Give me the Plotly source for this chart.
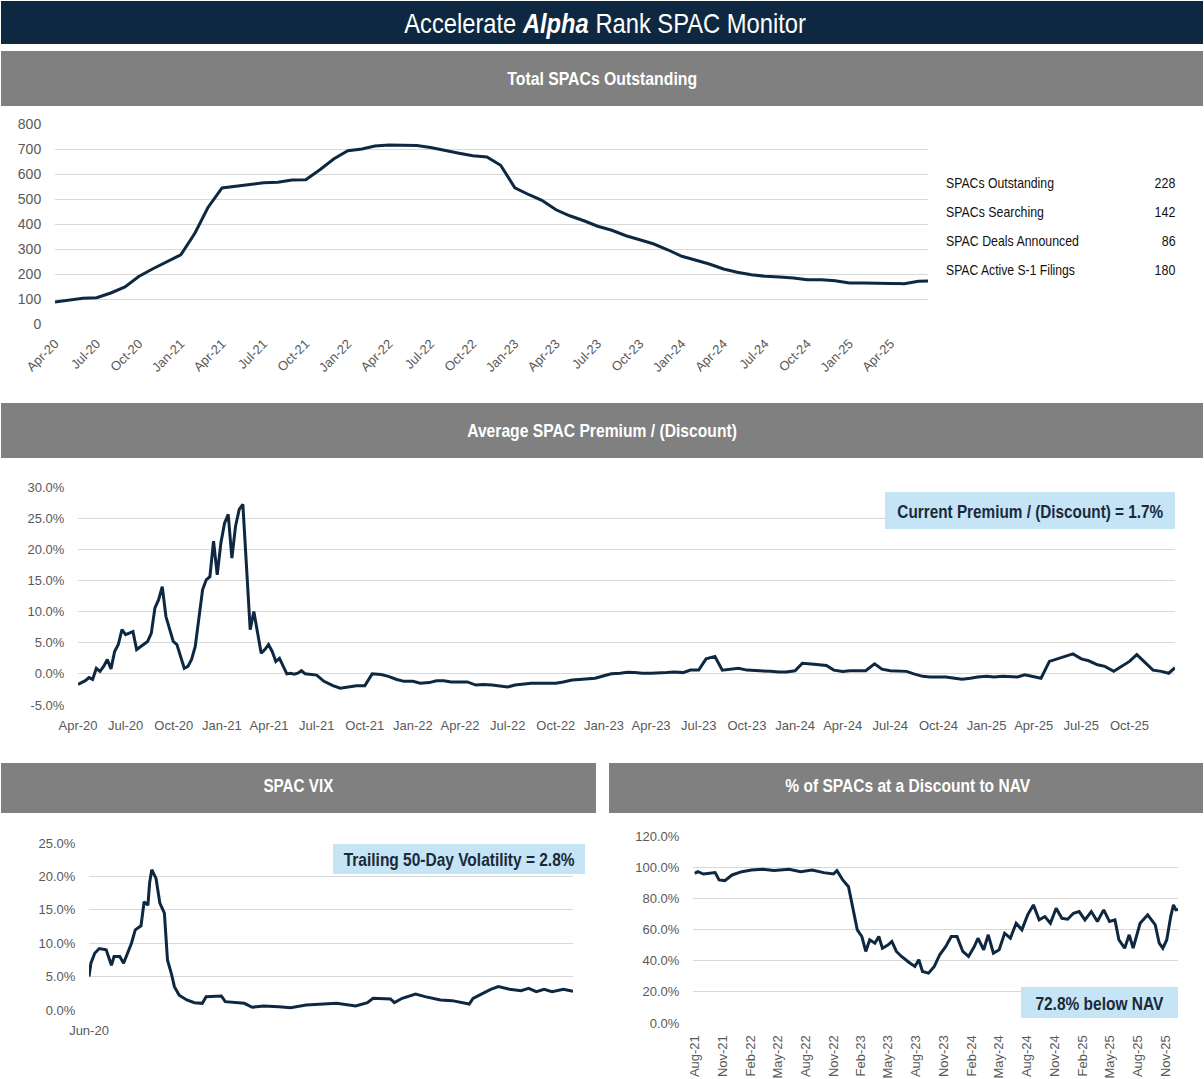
import json
import plotly.graph_objects as go
import pandas as pd

W, H = 1204, 1079
NAVY = "#0E2841"
GRAY = "#808080"
GRID = "#D9D9D9"
TICK = "#595959"
BOX = "#C5E4F5"
NARROW = "Liberation Sans Narrow, Arial Narrow, Liberation Sans, Arial"
REG = "Liberation Sans, Arial"

# ---------------- data ----------------
# Total SPACs outstanding (monthly, Apr-20 .. Jun-25, plus last point)
total_dates = list(pd.date_range("2020-04-01", periods=63, freq="MS")) + [pd.Timestamp("2025-06-22")]
total_vals = [88, 95, 103, 105, 124, 148, 190, 221, 250, 277, 364, 465,
              544, 551, 561, 565, 567, 576, 577, 617, 660, 693, 700, 712,
              716, 716, 714, 706, 693, 683, 673, 668, 635, 545, 517, 495,
              457, 433, 413, 391, 375, 353, 337, 320, 297, 271, 255, 240,
              220, 207, 197, 191, 188, 184, 177, 177, 173, 164, 164, 164,
              164, 161, 171, 172]
total_ticks = list(pd.date_range("2020-04-01", "2025-04-01", freq="3MS"))

stat_labels = ["SPACs Outstanding", "SPACs Searching", "SPAC Deals Announced", "SPAC Active S-1 Filings"]
stat_values = ["228", "142", "86", "180"]

# Average SPAC premium / (discount), % (weekly Apr-20..Jun-21, then semi-monthly)
prem_early_dates = list(pd.date_range("2020-04-01", periods=63, freq="7D"))
prem_early_vals = [-1.7, -1.4, -1.1, -0.6, -0.9, 0.9, 0.4, 1.2, 2.3, 0.8,
                   3.6, 4.7, 7.1, 6.3, 6.5, 6.8, 3.9, 4.3, 4.8, 5.2,
                   6.5, 10.6, 11.9, 14.0, 9.2, 7.3, 5.2, 4.7, 2.8, 0.9,
                   1.2, 2.3, 4.4, 9.2, 13.5, 15.1, 15.6, 21.3, 15.9, 21.0,
                   24.2, 25.6, 18.6, 23.7, 26.4, 27.2, 16.2, 7.1, 10.0, 6.5,
                   3.3, 3.9, 4.7, 3.6, 2.0, 2.5, 1.2, 0.0, 0.1, -0.05,
                   0.1, 0.5, 0.0]
prem_late_dates = list(pd.date_range("2021-07-01", "2025-12-15", freq="SMS")) + [pd.Timestamp("2025-12-27")]
prem_late_vals = [-0.2, -1.2, -1.9, -2.3, -2.1, -1.9, -1.9, 0.0, -0.1, -0.4, -0.9, -1.2,
                  -1.2, -1.5, -1.4, -1.1, -1.1, -1.3, -1.3, -1.3, -1.8, -1.7, -1.8, -1.9,
                  -2.1, -1.8, -1.6, -1.5, -1.5, -1.5, -1.5, -1.3, -1.0, -0.9, -0.75, -0.7,
                  -0.3, 0.0, 0.1, 0.25, 0.2, 0.1, 0.1, 0.1, 0.2, 0.3, 0.2, 0.6,
                  0.6, 2.4, 2.8, 0.6, 0.75, 0.9, 0.6, 0.5, 0.4, 0.4, 0.3, 0.3,
                  0.5, 1.7, 1.6, 1.45, 1.35, 0.6, 0.4, 0.5, 0.5, 0.5, 1.6, 0.75,
                  0.5, 0.5, 0.4, 0.0, -0.4, -0.5, -0.5, -0.5, -0.7, -0.85, -0.7, -0.5,
                  -0.4, -0.5, -0.4, -0.4, -0.5, -0.15, -0.5, -0.7, 2.0, 2.4, 2.9, 3.2,
                  2.4, 2.1, 1.45, 1.2, 0.4, 1.1, 2.0, 3.1, 1.7, 0.6, 0.4, 0.1,
                  1.0]
prem_ticks = list(pd.date_range("2020-04-01", "2025-10-01", freq="3MS"))
prem_yticks = [-5, 0, 5, 10, 15, 20, 25, 30]
prem_note = "Current Premium / (Discount) = 1.7%"

# SPAC VIX, %
vix_dates = ["2020-06-01", "2020-06-09", "2020-06-25", "2020-07-14", "2020-08-12", "2020-08-28",
             "2020-09-03", "2020-09-14", "2020-10-08", "2020-10-24", "2020-11-10", "2020-11-26",
             "2020-12-12", "2021-01-05", "2021-01-18", "2021-02-03", "2021-02-10", "2021-02-19",
             "2021-03-09", "2021-03-25", "2021-04-13", "2021-04-26", "2021-05-12", "2021-05-25",
             "2021-06-14", "2021-07-16", "2021-08-17", "2021-09-19", "2021-10-05", "2021-12-08",
             "2021-12-24", "2022-02-11", "2022-03-14", "2022-04-16", "2022-06-03", "2022-08-06",
             "2022-09-24", "2022-11-28", "2023-02-17", "2023-04-05", "2023-06-24", "2023-08-12",
             "2023-09-05", "2023-11-17", "2023-12-03", "2024-01-05", "2024-03-01", "2024-04-10",
             "2024-06-13", "2024-08-01", "2024-10-12", "2024-10-28", "2024-12-08", "2025-01-10",
             "2025-02-11", "2025-03-30", "2025-05-17", "2025-06-18", "2025-07-20", "2025-08-22",
             "2025-09-24", "2025-11-11", "2025-12-21"]
vix_vals = [5.0, 7.0, 8.5, 9.2, 9.0, 7.5,
            6.7, 8.0, 8.0, 7.0, 8.5, 10.0,
            12.0, 12.6, 16.2, 15.7, 19.0, 21.0,
            19.7, 16.0, 14.5, 7.5, 5.5, 3.5,
            2.2, 1.5, 1.1, 1.0, 2.0, 2.1,
            1.25, 1.1, 1.0, 0.4, 0.6, 0.5,
            0.35, 0.75, 0.9, 1.0, 0.6, 1.1,
            1.75, 1.65, 1.1, 1.75, 2.4, 2.0,
            1.5, 1.4, 0.9, 1.75, 2.5, 3.1,
            3.5, 3.1, 2.9, 3.25, 2.75, 3.1,
            2.75, 3.1, 2.8]
vix_yticks = [0, 5, 10, 15, 20, 25]
vix_note = "Trailing 50-Day Volatility = 2.8%"

# % of SPACs at a discount to NAV
nav_dates = ["2021-08-01", "2021-08-11", "2021-08-30", "2021-09-18", "2021-10-07", "2021-10-20",
             "2021-11-08", "2021-12-02", "2022-01-03", "2022-02-04", "2022-03-13", "2022-04-19",
             "2022-06-08", "2022-07-16", "2022-08-23", "2022-09-30", "2022-11-01", "2022-11-13",
             "2022-12-02", "2022-12-21", "2022-12-30", "2023-01-09", "2023-01-19", "2023-02-03",
             "2023-02-16", "2023-03-01", "2023-03-18", "2023-03-31", "2023-04-12", "2023-05-01",
             "2023-05-13", "2023-05-28", "2023-06-14", "2023-07-09", "2023-07-28", "2023-08-10",
             "2023-08-22", "2023-09-11", "2023-09-30", "2023-10-18", "2023-11-07", "2023-11-25",
             "2023-12-14", "2024-01-02", "2024-01-21", "2024-02-09", "2024-02-21", "2024-03-11",
             "2024-03-26", "2024-04-12", "2024-05-01", "2024-05-19", "2024-06-07", "2024-06-26",
             "2024-07-15", "2024-08-03", "2024-08-22", "2024-09-10", "2024-09-29", "2024-10-17",
             "2024-11-05", "2024-11-24", "2024-12-13", "2025-01-01", "2025-01-20", "2025-02-08",
             "2025-03-01", "2025-03-21", "2025-04-11", "2025-04-30", "2025-05-18", "2025-05-31",
             "2025-06-19", "2025-07-04", "2025-07-17", "2025-08-09", "2025-09-03", "2025-09-28",
             "2025-10-11", "2025-10-23", "2025-11-05", "2025-11-18", "2025-11-27", "2025-12-05",
             "2025-12-12"]
nav_vals = [96.0, 97.1, 95.6, 96.0, 96.5, 91.8,
            91.4, 95.0, 97.1, 98.2, 98.6, 97.8,
            98.6, 97.1, 98.2, 96.5, 95.6, 97.8,
            91.8, 87.5, 79.0, 70.4, 59.8, 55.5,
            45.9, 53.4, 51.2, 55.5, 48.0, 50.2,
            52.3, 45.9, 42.7, 38.8, 36.3, 40.6,
            33.1, 32.0, 36.3, 43.8, 49.1, 55.5,
            55.5, 45.9, 42.7, 49.1, 54.4, 47.0,
            56.6, 44.8, 47.0, 57.6, 54.4, 64.0,
            59.8, 69.4, 75.8, 66.2, 68.3, 64.0,
            73.6, 67.2, 66.6, 70.4, 71.5, 66.2,
            71.5, 65.1, 72.6, 65.1, 66.2, 53.4,
            48.0, 56.6, 48.0, 64.0, 69.4, 63.0,
            51.2, 48.0, 53.4, 68.3, 75.8, 72.6,
            72.8]
nav_ticks = list(pd.date_range("2021-08-01", "2025-11-01", freq="3MS"))
nav_yticks = [0, 20, 40, 60, 80, 100, 120]
nav_note = "72.8% below NAV"

title_html = "Accelerate <b><i>Alpha</i></b> Rank SPAC Monitor"
headers = ["Total SPACs Outstanding", "Average SPAC Premium / (Discount)", "SPAC VIX",
           "% of SPACs at a Discount to NAV"]


# ---------------- helpers ----------------
def fx(px):
    return px / W


def fy(py):
    return 1 - py / H


def pct_text(v):
    return f"{v:.1f}%"


fig = go.Figure()
line = dict(color=NAVY, width=3)

fig.add_trace(go.Scatter(x=total_dates, y=total_vals, mode="lines", line=line,
                         xaxis="x", yaxis="y", hoverinfo="skip"))
fig.add_trace(go.Scatter(x=prem_early_dates + prem_late_dates, y=prem_early_vals + prem_late_vals,
                         mode="lines", line=line, xaxis="x2", yaxis="y2", hoverinfo="skip"))
fig.add_trace(go.Scatter(x=pd.to_datetime(vix_dates), y=vix_vals, mode="lines", line=line,
                         xaxis="x3", yaxis="y3", hoverinfo="skip"))
fig.add_trace(go.Scatter(x=pd.to_datetime(nav_dates), y=nav_vals, mode="lines", line=line,
                         xaxis="x4", yaxis="y4", hoverinfo="skip"))

tickfont = dict(family=REG, size=13, color=TICK)
common_x = dict(showgrid=False, zeroline=False, showline=False, type="date", automargin=False,
                ticks="outside", tickcolor="rgba(0,0,0,0)", tickfont=tickfont, fixedrange=True)
common_y = dict(showgrid=True, gridcolor=GRID, gridwidth=1, zeroline=False, showline=False,
                automargin=False, ticks="outside", ticklen=10, tickcolor="rgba(0,0,0,0)",
                tickfont=tickfont, fixedrange=True)

fig.update_layout(
    template="none",
    width=W, height=H, margin=dict(l=0, r=0, t=0, b=0, pad=0), autosize=False,
    paper_bgcolor="white", plot_bgcolor="white", showlegend=False,
    xaxis=dict(common_x, domain=[fx(55), fx(928)], anchor="y",
               range=[total_dates[0], total_dates[-1]],
               tickvals=total_ticks, ticktext=[d.strftime("%b-%y") for d in total_ticks],
               tickangle=-45, ticklen=6),
    yaxis=dict(common_y, domain=[fy(324), fy(124)], anchor="x", range=[0, 800],
               tickvals=list(range(0, 801, 100)), ticktext=[str(v) for v in range(0, 801, 100)],
               tickfont=dict(family=REG, size=14, color=TICK)),
    xaxis2=dict(common_x, domain=[fx(78), fx(1175)], anchor="y2",
                range=[prem_early_dates[0], prem_late_dates[-1]],
                tickvals=prem_ticks, ticktext=[d.strftime("%b-%y") for d in prem_ticks],
                tickangle=0, ticklen=8),
    yaxis2=dict(common_y, domain=[fy(705), fy(487)], anchor="x2", range=[-5, 30],
                tickvals=prem_yticks, ticktext=[pct_text(v) for v in prem_yticks]),
    xaxis3=dict(common_x, domain=[fx(89), fx(573)], anchor="y3",
                range=[vix_dates[0], vix_dates[-1]],
                tickvals=[vix_dates[0]], ticktext=["Jun-20"], tickangle=0, ticklen=8),
    yaxis3=dict(common_y, domain=[fy(1010), fy(843)], anchor="x3", range=[0, 25],
                tickvals=vix_yticks, ticktext=[pct_text(v) for v in vix_yticks]),
    xaxis4=dict(common_x, domain=[fx(693), fx(1178)], anchor="y4",
                range=["2021-07-26", nav_dates[-1]],
                tickvals=nav_ticks, ticktext=[d.strftime("%b-%y") for d in nav_ticks],
                tickangle=-90, ticklen=6),
    yaxis4=dict(common_y, domain=[fy(1023), fy(836)], anchor="x4", range=[0, 120],
                tickvals=nav_yticks, ticktext=[pct_text(v) for v in nav_yticks]),
)

shapes = []
annots = []
squeeze = {}  # annotation index -> [target text width px, anchor] (narrow-font emulation)


def rect(x0, y0, x1, y1, color):
    shapes.append(dict(type="rect", xref="paper", yref="paper", x0=fx(x0), x1=fx(x1),
                       y0=fy(y1), y1=fy(y0), fillcolor=color, line=dict(width=0), layer="below"))


def text(x, y, s, size, color, width=None, family=NARROW, xanchor="center"):
    if width is not None:
        squeeze[len(annots)] = [width, xanchor]
    annots.append(dict(xref="paper", yref="paper", x=fx(x), y=fy(y), text=s, showarrow=False,
                       xanchor=xanchor, yanchor="middle",
                       font=dict(family=family, size=size, color=color)))


# title bar and headers
rect(1, 1, 1203, 44, NAVY)
text(605, 23, title_html, 28, "white", width=402)
rect(1, 51, 1203, 106, GRAY)
text(602, 79, f"<b>{headers[0]}</b>", 18, "white", width=190)
rect(1, 403, 1203, 458, GRAY)
text(602, 431, f"<b>{headers[1]}</b>", 18, "white", width=270)
rect(1, 763, 596, 813, GRAY)
text(298, 786, f"<b>{headers[2]}</b>", 18, "white", width=70)
rect(609, 763, 1203, 813, GRAY)
text(907, 786, f"<b>{headers[3]}</b>", 18, "white", width=245)

# stats table
stat_widths = [108, 98, 133, 129]
val_widths = [21, 21, 14, 21]
for i, (lab, val) in enumerate(zip(stat_labels, stat_values)):
    yy = 183 + 29 * i
    text(944, yy, lab, 14, "#111111", width=stat_widths[i], xanchor="left")
    text(1178, yy, val, 14, "#111111", width=val_widths[i], xanchor="right")

# note boxes
boxes = [((885, 492, 1175, 529), prem_note, 266), ((333, 844, 585, 874), vix_note, 231),
         ((1021, 987, 1178, 1018), nav_note, 128)]
for (x0, y0, x1, y1), note, tw in boxes:
    shapes.append(dict(type="rect", xref="paper", yref="paper", x0=fx(x0), x1=fx(x1),
                       y0=fy(y1), y1=fy(y0), fillcolor=BOX, line=dict(width=0), layer="above"))
    text((x0 + x1) / 2, (y0 + y1) / 2 + 1, f"<b>{note}</b>", 18, "#1B2A3A", width=tw)

fig.update_layout(shapes=shapes, annotations=annots)

post = """
var gd = document.getElementById('{plot_id}');
var SQ = %s;
function sq() {
  var gs = gd.querySelectorAll('g.annotation');
  gs.forEach(function (g) {
    var i = g.getAttribute('data-index');
    var t = SQ[i];
    if (!t) return;
    var txt = g.querySelector('text.annotation-text');
    if (!txt) return;
    txt.removeAttribute('transform');
    var bb = txt.getBBox();
    if (!bb.width) return;
    var s = t[0] / bb.width;
    var ax = t[1] === 'left' ? bb.x : (t[1] === 'right' ? bb.x + bb.width : bb.x + bb.width / 2);
    txt.setAttribute('transform', 'translate(' + ax + ',0) scale(' + s + ',1) translate(' + (-ax) + ',0)');
  });
}
document.body.style.margin = '0';
sq();
if (gd.on) { gd.on('plotly_afterplot', sq); }
setTimeout(sq, 0); setTimeout(sq, 200); setTimeout(sq, 800);
""" % json.dumps({str(k): v for k, v in squeeze.items()})

fig.write_html("out.html", config={"displayModeBar": False}, post_script=post)
